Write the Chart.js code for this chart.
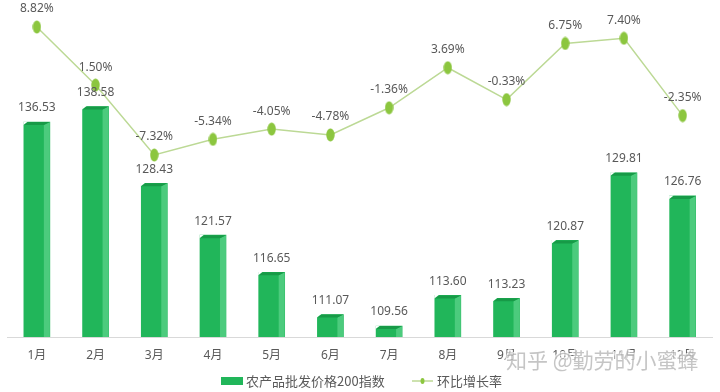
<!DOCTYPE html>
<html>
<head>
<meta charset="utf-8">
<script src="https://cdn.jsdelivr.net/npm/chart.js@4/dist/chart.umd.min.js"></script>
<style>
html,body{margin:0;padding:0;background:#fff;}
#wrap{width:720px;height:392px;position:relative;}
</style>
</head>
<body>
<div id="wrap"><canvas id="c" width="720" height="392"></canvas></div>
<script>
const categories = ['1月','2月','3月','4月','5月','6月','7月','8月','9月','10月','11月','12月'];
const indexValues = [136.53,138.58,128.43,121.57,116.65,111.07,109.56,113.60,113.23,120.87,129.81,126.76];
const growthRates = [8.82,1.50,-7.32,-5.34,-4.05,-4.78,-1.36,3.69,-0.33,6.75,7.40,-2.35];
const seriesNames = ['农产品批发价格200指数','环比增长率'];
const watermark = '知乎 @勤劳的小蜜蜂';

const FRONT = '#21b65a';
const SIDE = '#4ccb7d';
const TOP = '#179a47';
const LINE = '#bcd995';
const POINT = '#8cc63f';
const TEXT = '#595959';
const NUMFONT = '12px "Noto Sans", "Noto Sans CJK SC", sans-serif';

// ellipse point image
const pt = document.createElement('canvas');
pt.width = 9; pt.height = 14;
(function(){
  const g = pt.getContext('2d');
  g.fillStyle = POINT;
  g.beginPath();
  g.ellipse(4.5, 7, 4.2, 6.5, 0, 0, Math.PI*2);
  g.fill();
})();

const decor = {
  id: 'decor',
  afterDatasetDraw(chart, args) {
    const meta = args.meta;
    if (meta.type !== 'bar') return;
    const ctx = chart.ctx;
    const bottom = chart.chartArea.bottom;
    ctx.save();
    meta.data.forEach(el => {
      const p = el.getProps(['x','y','width'], true);
      const left = p.x - p.width/2, right = p.x + p.width/2;
      const sw = 6, d = 3;
      // side face
      ctx.fillStyle = SIDE;
      ctx.beginPath();
      ctx.moveTo(right - sw, p.y + d);
      ctx.lineTo(right, p.y);
      ctx.lineTo(right, bottom);
      ctx.lineTo(right - sw, bottom);
      ctx.closePath();
      ctx.fill();
      // top face
      ctx.fillStyle = TOP;
      ctx.beginPath();
      ctx.moveTo(left, p.y + d);
      ctx.lineTo(left + 4, p.y);
      ctx.lineTo(right, p.y);
      ctx.lineTo(right - sw, p.y + d);
      ctx.closePath();
      ctx.fill();
      // clear top-left corner above slant
      ctx.fillStyle = '#ffffff';
      ctx.beginPath();
      ctx.moveTo(left - 0.5, p.y - 0.5);
      ctx.lineTo(left + 4, p.y - 0.5);
      ctx.lineTo(left - 0.5, p.y + d);
      ctx.closePath();
      ctx.fill();
    });
    ctx.restore();
  },
  afterDatasetsDraw(chart) {
    const ctx = chart.ctx;
    ctx.save();
    ctx.font = NUMFONT;
    ctx.fillStyle = TEXT;
    ctx.textAlign = 'center';
    ctx.textBaseline = 'middle';
    const barMeta = chart.getDatasetMeta(1);
    barMeta.data.forEach((el, i) => {
      ctx.fillText(indexValues[i].toFixed(2), el.x, el.y - 14);
    });
    const lineMeta = chart.getDatasetMeta(0);
    lineMeta.data.forEach((el, i) => {
      ctx.fillText(growthRates[i].toFixed(2) + '%', el.x, el.y - 18);
    });
    // legend
    ctx.font = '13px "Noto Sans CJK SC", sans-serif';
    ctx.textAlign = 'left';
    const ly = 381;
    ctx.fillStyle = FRONT;
    ctx.fillRect(221, 377, 22, 8);
    ctx.fillStyle = TEXT;
    ctx.fillText(seriesNames[0], 246, ly);
    ctx.strokeStyle = LINE;
    ctx.lineWidth = 1.5;
    ctx.beginPath(); ctx.moveTo(412, ly); ctx.lineTo(433, ly); ctx.stroke();
    ctx.fillStyle = POINT;
    ctx.beginPath(); ctx.ellipse(422.5, ly, 2, 3, 0, 0, Math.PI*2); ctx.fill();
    ctx.fillStyle = TEXT;
    ctx.fillText(seriesNames[1], 437, ly);
    // watermark
    ctx.font = '21px "Noto Sans CJK SC", sans-serif';
    ctx.lineWidth = 3;
    ctx.strokeStyle = 'rgba(255,255,255,0.7)';
    ctx.strokeText(watermark, 506, 360);
    ctx.fillStyle = 'rgba(150,150,150,0.55)';
    ctx.fillText(watermark, 506, 360);
    ctx.restore();
  }
};

new Chart(document.getElementById('c'), {
  data: {
    labels: categories,
    datasets: [
      {
        type: 'line',
        label: seriesNames[1],
        data: growthRates,
        yAxisID: 'y1',
        borderColor: LINE,
        borderWidth: 1.5,
        pointStyle: pt,
        pointRadius: 6,
        tension: 0,
        order: 0,
        clip: false
      },
      {
        type: 'bar',
        label: seriesNames[0],
        data: indexValues,
        yAxisID: 'y',
        backgroundColor: FRONT,
        barThickness: 26,
        borderWidth: 0,
        order: 1
      }
    ]
  },
  plugins: [decor],
  options: {
    responsive: false,
    animation: false,
    events: [],
    layout: { padding: { left: 6, right: 8, top: 10, bottom: 0 } },
    plugins: { legend: { display: false }, tooltip: { enabled: false } },
    scales: {
      x: {
        grid: { display: false, drawTicks: false },
        border: { display: true, color: '#d9d9d9', width: 1 },
        ticks: { color: TEXT, padding: 11, font: { size: 12, family: '"Noto Sans", "Noto Sans CJK SC", sans-serif' }, maxRotation: 0, autoSkip: false },
        afterFit(s) { s.height = 55; }
      },
      y: { display: false, min: 108.1, max: 151.35 },
      y1: { display: false, position: 'right', min: -30.27, max: 10.97 }
    }
  }
});
</script>
</body>
</html>
